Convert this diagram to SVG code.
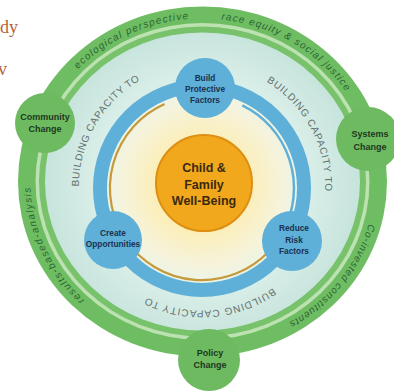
<svg xmlns="http://www.w3.org/2000/svg" width="394" height="391" viewBox="0 0 394 391">
<defs>
<radialGradient id="interior" cx="202" cy="185" r="158" gradientUnits="userSpaceOnUse">
<stop offset="0" stop-color="#fce69a"/>
<stop offset="0.3" stop-color="#fbeeb8"/>
<stop offset="0.5" stop-color="#f6f3da"/>
<stop offset="0.6" stop-color="#eef4e6"/>
<stop offset="0.68" stop-color="#d9eee8"/>
<stop offset="1" stop-color="#c6e4dc"/>
</radialGradient>
<path id="outerPath" d="M 202.5,344.5 A 172,163 0 1,1 202.5,18.5 A 172,163 0 1,1 202.5,344.5"/>
<path id="innerPath" d="M 317.58,229.07 A 123,123 0 1,1 86.42,144.93 A 123,123 0 1,1 317.58,229.07"/>
</defs>
<style>
.serif{font-family:"Liberation Serif","Times New Roman",serif;fill:#b5643c;font-size:18px}
.ring{font-family:"Liberation Sans",Arial,sans-serif;font-style:italic;font-size:10px;fill:#2a6533}
.cap{font-family:"Liberation Sans",Arial,sans-serif;font-size:10px;fill:#64706e}
.gnode{fill:#6dba61}
.gtxt{font-family:"Liberation Sans",Arial,sans-serif;font-weight:bold;font-size:9px;fill:#1d381e;text-anchor:middle}
.bnode{fill:#5eb0d8}
.btxt{font-family:"Liberation Sans",Arial,sans-serif;font-weight:bold;font-size:8.3px;fill:#1c3150;text-anchor:middle}
.ctxt{font-family:"Liberation Sans",Arial,sans-serif;font-weight:bold;font-size:12.5px;fill:#3b2a0e;text-anchor:middle}
</style>

<text class="serif" x="0" y="33">dy</text>
<text class="serif" x="7" y="75" text-anchor="end">v</text>

<g id="outer-ring">
<ellipse cx="202.5" cy="181.5" rx="184.5" ry="175" fill="#6fbd62"/>
<ellipse cx="202.5" cy="181.5" rx="167" ry="158.5" fill="#bde2b1"/>
<ellipse cx="202.5" cy="181.5" rx="163.5" ry="155" fill="#79c26c"/>
<ellipse cx="202.5" cy="181.5" rx="157.5" ry="149" fill="url(#interior)"/>
<text class="ring"><textPath href="#outerPath" startOffset="129" textLength="128" lengthAdjust="spacing">results-based-analysis</textPath></text>
<text class="ring"><textPath href="#outerPath" startOffset="388" textLength="124" lengthAdjust="spacing">ecological perspective</textPath></text>
<text class="ring"><textPath href="#outerPath" startOffset="545" textLength="148" lengthAdjust="spacing">race equity &amp; social justice</textPath></text>
<text class="ring"><textPath href="#outerPath" startOffset="832" textLength="130" lengthAdjust="spacing">Co-invested constituents</textPath></text>
</g>

<g id="capacity-labels">
<text class="cap"><textPath href="#innerPath" startOffset="345" textLength="128" lengthAdjust="spacing">BUILDING CAPACITY TO</textPath></text>
<text class="cap"><textPath href="#innerPath" startOffset="606" textLength="130" lengthAdjust="spacing">BUILDING CAPACITY TO</textPath></text>
<text class="cap"><textPath href="#innerPath" startOffset="75" textLength="133" lengthAdjust="spacing">BUILDING CAPACITY TO</textPath></text>
</g>

<g id="connectors">
<circle cx="202" cy="188" r="102" fill="none" stroke="#5eb0d8" stroke-width="14"/>
<path d="M 164.6,104 A 92,92 0 1,0 268.2,251.9" fill="none" stroke="#c49a3c" stroke-width="2.2"/>
<path d="M 242.3,105.3 A 92,92 0 0,1 283.2,231.2" fill="none" stroke="#5eb0d8" stroke-width="2.5"/>
</g>

<g id="center">
<circle cx="204" cy="183" r="48" fill="#f2a81c" stroke="#dc8f12" stroke-width="2"/>
<text class="ctxt" x="204" y="171.5">Child &amp;</text>
<text class="ctxt" x="204" y="188.5">Family</text>
<text class="ctxt" x="204" y="205">Well-Being</text>
</g>

<g id="build-protective-factors">
<circle class="bnode" cx="205" cy="88" r="30"/>
<text class="btxt" x="205" y="81">Build</text>
<text class="btxt" x="205" y="92">Protective</text>
<text class="btxt" x="205" y="103">Factors</text>
</g>
<g id="create-opportunities">
<circle class="bnode" cx="113" cy="240" r="29"/>
<text class="btxt" x="113" y="236">Create</text>
<text class="btxt" x="113" y="247">Opportunities</text>
</g>
<g id="reduce-risk-factors">
<circle class="bnode" cx="292" cy="241" r="30"/>
<text class="btxt" x="294" y="231">Reduce</text>
<text class="btxt" x="294" y="243">Risk</text>
<text class="btxt" x="294" y="254">Factors</text>
</g>

<g id="community-change">
<circle class="gnode" cx="45" cy="123" r="30"/>
<text class="gtxt" x="45" y="119.5">Community</text>
<text class="gtxt" x="45" y="131.5">Change</text>
</g>
<g id="systems-change">
<circle class="gnode" cx="368" cy="139" r="32"/>
<text class="gtxt" x="370" y="136.5">Systems</text>
<text class="gtxt" x="370" y="149.5">Change</text>
</g>
<g id="policy-change">
<circle class="gnode" cx="209" cy="360" r="31"/>
<text class="gtxt" x="210" y="355.5">Policy</text>
<text class="gtxt" x="210" y="367.5">Change</text>
</g>
</svg>
